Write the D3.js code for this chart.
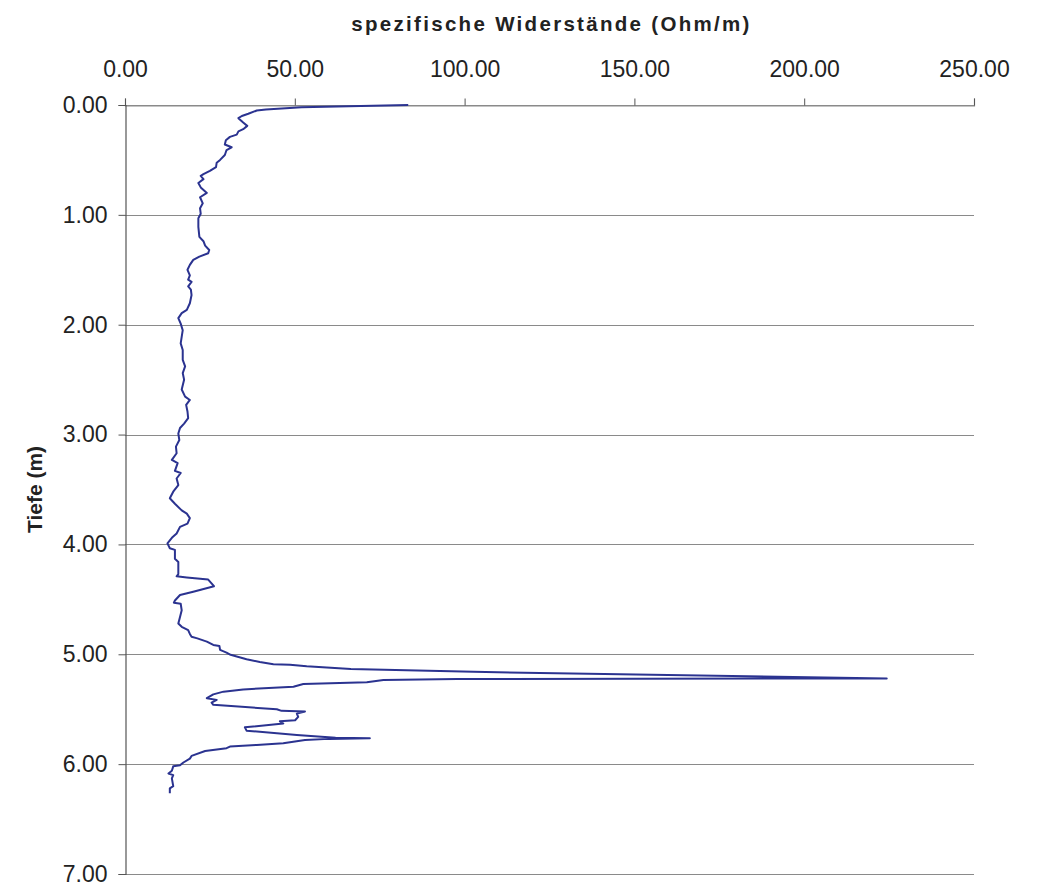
<!DOCTYPE html>
<html>
<head>
<meta charset="utf-8">
<script src="https://cdn.jsdelivr.net/npm/d3@7"></script>
<style>
  html, body { margin: 0; padding: 0; background: #fff; }
  svg { display: block; }
  text { font-family: "Liberation Sans", Arial, sans-serif; fill: #222; }
</style>
</head>
<body>
<div id="chart"></div>
<script>
// ---- data ----
const xTickValues = [0, 50, 100, 150, 200, 250];
const yTickValues = [0, 1, 2, 3, 4, 5, 6, 7];
const titleText = "spezifische Widerstände (Ohm/m)";
const yAxisTitle = "Tiefe (m)";

const depth = [
  0.00, 0.02, 0.04, 0.05, 0.08, 0.10, 0.12, 0.16, 0.19, 0.22, 0.24, 0.27, 0.29, 0.32, 0.36, 0.385,
  0.41, 0.455, 0.50, 0.525, 0.565, 0.60, 0.63, 0.645, 0.675, 0.71, 0.75, 0.80, 0.84, 0.895, 0.94, 0.99,
  1.03, 1.11, 1.20, 1.24, 1.28, 1.32, 1.35, 1.38, 1.41, 1.455, 1.50, 1.55, 1.59, 1.61, 1.65, 1.68,
  1.73, 1.805, 1.865, 1.895, 1.94, 1.99, 2.05, 2.17, 2.23, 2.32, 2.38, 2.44, 2.50, 2.59, 2.655, 2.685,
  2.73, 2.79, 2.85, 2.90, 2.94, 2.99, 3.05, 3.11, 3.17, 3.23, 3.26, 3.33, 3.35, 3.40, 3.46, 3.52,
  3.58, 3.63, 3.69, 3.72, 3.76, 3.81, 3.84, 3.90, 3.94, 3.99, 4.035, 4.05, 4.13, 4.16, 4.27, 4.29,
  4.30, 4.32, 4.38, 4.43, 4.46, 4.51, 4.53, 4.54, 4.60, 4.66, 4.72, 4.75, 4.78, 4.815, 4.84, 4.855,
  4.885, 4.915, 4.925, 4.96, 4.985, 5.005, 5.02, 5.045, 5.07, 5.09, 5.095, 5.11, 5.135, 5.16, 5.22,
  5.225, 5.235, 5.255, 5.27, 5.295, 5.32, 5.34, 5.365, 5.40, 5.415, 5.44, 5.46, 5.50, 5.515, 5.52,
  5.54, 5.57, 5.60, 5.61, 5.63, 5.665, 5.695, 5.735, 5.76, 5.765, 5.77, 5.78, 5.81, 5.825, 5.84,
  5.855, 5.88, 5.925, 5.95, 5.985, 6.01, 6.02, 6.06, 6.085, 6.10, 6.13, 6.20, 6.22, 6.265
];
const resistivity = [
  83.4, 52.0, 41.5, 38.8, 36.3, 34.4, 33.4, 34.8, 36.0, 34.8, 33.4, 32.9, 30.9, 29.7, 29.4, 31.4,
  29.9, 29.4, 28.0, 27.0, 26.8, 25.0, 23.1, 22.3, 23.1, 21.6, 22.3, 24.1, 22.1, 22.9, 22.1, 22.3,
  21.6, 21.6, 21.9, 23.1, 23.6, 24.8, 24.5, 21.9, 20.1, 19.1, 18.4, 19.1, 18.6, 19.6, 18.6, 19.4,
  19.6, 19.1, 18.2, 16.7, 15.7, 16.4, 17.0, 16.4, 17.0, 17.0, 17.7, 17.0, 17.4, 16.7, 17.7, 19.1,
  18.0, 18.4, 18.6, 17.4, 16.2, 15.7, 16.0, 15.0, 15.2, 13.8, 15.5, 14.7, 16.4, 15.2, 15.7, 14.2,
  13.2, 14.7, 16.7, 18.2, 19.1, 18.4, 16.2, 15.2, 13.8, 12.5, 13.2, 14.7, 14.7, 15.7, 15.7, 15.2,
  18.2, 24.5, 26.2, 20.1, 16.2, 14.7, 14.4, 16.4, 16.7, 16.2, 15.7, 16.7, 18.6, 19.1, 19.6, 21.3,
  24.1, 26.0, 27.8, 28.0, 29.9, 31.1, 32.9, 35.8, 39.7, 43.7, 48.6, 53.5, 66.5, 102.6, 224.3,
  97.7, 76.1, 71.2, 52.5, 49.6, 34.8, 29.0, 26.0, 24.1, 27.0, 25.5, 26.0, 44.7, 46.1, 53.0,
  50.6, 51.0, 50.1, 45.6, 46.6, 35.3, 35.8, 50.6, 62.0, 72.1, 60.0, 53.0, 46.6, 38.8, 30.9,
  29.9, 23.6, 19.6, 19.1, 17.2, 16.2, 14.2, 13.8, 12.8, 14.2, 13.8, 14.2, 13.2, 13.2
];

// ---- layout ----
const W = 1040, H = 889;
const plot = { left: 125, right: 974, top: 105, bottom: 874 };

const svg = d3.select("#chart").append("svg")
  .attr("width", W).attr("height", H);

const x = d3.scaleLinear().domain([0, 250]).range([plot.left, plot.right]);
const y = d3.scaleLinear().domain([0, 7]).range([plot.top, plot.bottom]);

// horizontal gridlines
svg.append("g").selectAll("line").data(yTickValues).join("line")
  .attr("x1", plot.left).attr("x2", plot.right)
  .attr("y1", d => Math.round(y(d)) + 0.5).attr("y2", d => Math.round(y(d)) + 0.5)
  .attr("stroke", "#8a8a8a").attr("stroke-width", 1.2);

// top axis
const xAxis = d3.axisTop(x).tickValues(xTickValues).tickSize(7).tickPadding(22)
  .tickFormat(d3.format(".2f"));
const gx = svg.append("g").attr("transform", `translate(0,${Math.round(plot.top) + 0.5})`).call(xAxis);
gx.select(".domain").attr("stroke", "#8a8a8a").attr("stroke-width", 1.2);
gx.selectAll(".tick line").attr("stroke", "#555");
gx.selectAll(".tick text").attr("font-size", 23).attr("fill", "#222")
  .attr("font-family", "'Liberation Sans', Arial, sans-serif");

// left axis
const yAxis = d3.axisLeft(y).tickValues(yTickValues).tickSize(7).tickPadding(11)
  .tickFormat(d3.format(".2f"));
const gy = svg.append("g").attr("transform", `translate(${plot.left + 0.5},0)`).call(yAxis);
gy.select(".domain").attr("stroke", "#555").attr("stroke-width", 1.2);
gy.selectAll(".tick line").attr("stroke", "#555");
gy.selectAll(".tick text").attr("font-size", 23).attr("fill", "#222")
  .attr("font-family", "'Liberation Sans', Arial, sans-serif");

// data line
const pts = depth.map((d, i) => ({ d, v: resistivity[i] }));
svg.append("path").datum(pts)
  .attr("fill", "none").attr("stroke", "#2b3390").attr("stroke-width", 2)
  .attr("stroke-linejoin", "round")
  .attr("d", d3.line().x(p => x(p.v)).y(p => y(p.d)));

// titles
svg.append("text").attr("x", (plot.left + plot.right) / 2 + 2).attr("y", 31)
  .attr("text-anchor", "middle").attr("font-size", 20.5).attr("font-weight", "bold")
  .attr("letter-spacing", "2.3px").text(titleText);

svg.append("text")
  .attr("transform", `translate(42,${(plot.top + plot.bottom) / 2}) rotate(-90)`)
  .attr("text-anchor", "middle").attr("font-size", 21).attr("font-weight", "bold")
  .text(yAxisTitle);
</script>
</body>
</html>
